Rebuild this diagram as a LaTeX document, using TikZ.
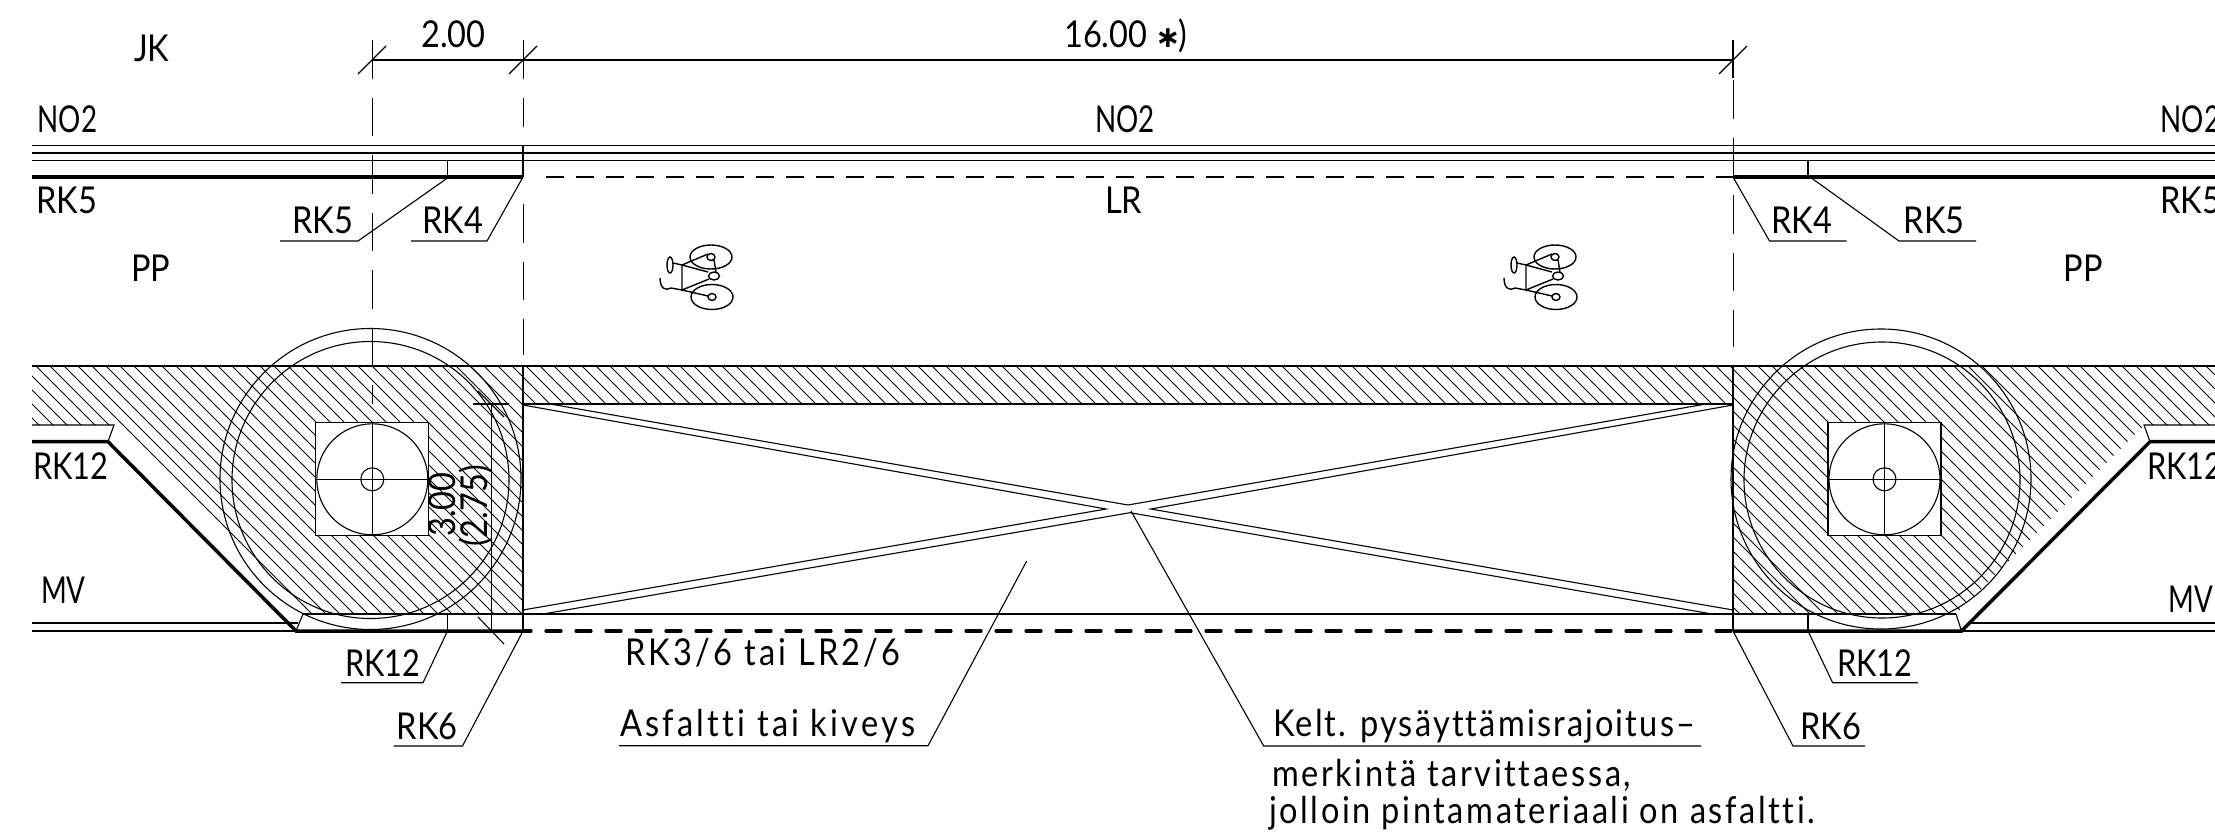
\documentclass[tikz,border=0pt]{standalone}
\usepackage{fontspec}
\setmainfont{Lato}[FakeStretch=0.88]
\newfontfamily\starfont{DejaVu Sans}
\newfontfamily\narrowfont{Lato}[FakeStretch=0.75]
\newfontfamily\mediumfont{Lato}[FakeStretch=0.83]
\newfontfamily\spacedfont{Lato}[FakeStretch=0.88,LetterSpace=7,Ligatures=NoCommon]
\newfontfamily\widefont{Lato}[FakeStretch=0.88,LetterSpace=8.8,Ligatures=NoCommon]
\newfontfamily\closefont{Lato}[FakeStretch=0.88,LetterSpace=5.8,Ligatures=NoCommon]
\usetikzlibrary{calc}
\tikzset{
   thinline/.style = {-, line width=1.1pt, },
   midline/.style  = {-, line width=1.5pt, },
   thickline/.style = {-, line width=3.5pt, line cap=butt, },
   hatchline/.style = {-, line width=0.8pt, },
   axisline/.style = {-, line width=1pt, dash pattern=on 38.5pt off 19pt, },
   kerbdash/.style = {-, line width=3.2pt, line cap=round, dash pattern=on 15pt off 15pt, },
   thindash/.style = {-, line width=1.1pt, dash pattern=on 18pt off 12pt, },
   rktext/.style = {anchor=base west, inner sep=0pt, font=\fontsize{37}{37}\selectfont, },
   narrowtext/.style = {rktext, font=\fontsize{37}{37}\narrowfont, },
   mediumtext/.style = {rktext, font=\fontsize{37}{37}\mediumfont, },
   spacedtext/.style = {rktext, font=\fontsize{37}{37}\spacedfont, },
   widetext/.style = {rktext, font=\fontsize{37}{37}\widefont, },
   closetext/.style = {rktext, font=\fontsize{37}{37}\closefont, },
   wellbox/.style = {rectangle, draw, fill=white, line width=1.1pt, minimum size=113pt, inner sep=0pt, outer sep=0pt, },
   ring/.style = {circle, draw, line width=1.1pt, inner sep=0pt, outer sep=0pt, },
   bike/.pic = {
      \draw[thinline,line width=1.4pt] (29,-19) ellipse [x radius=21, y radius=12];
      \draw[thinline,line width=1.4pt] (30,21) ellipse [x radius=21, y radius=12.5];
      \draw[thinline,line width=1.4pt] (29,-19) ellipse [x radius=4, y radius=3.5];
      \draw[thinline,line width=1.4pt] (30,21) ellipse [x radius=4, y radius=3.5];
      \draw[thinline,line width=1.4pt] (32,0) ellipse [x radius=5.5, y radius=4];
      \draw[thinline,line width=1.4pt] (-12,-11) ellipse [x radius=3, y radius=8];
      \draw[thinline,line width=1.4pt] (-9,-13) -- (0,-11) -- (26,-4);
      \draw[thinline,line width=1.4pt] (0,-11) -- (0,14) -- (27,3);
      \draw[thinline,line width=1.4pt] (0,-11) -- (26,-22);
      \draw[thinline,line width=1.4pt] (32,-16) -- (34,-4);
      \draw[thinline,line width=1.4pt] (0,14) -- (26,20);
      \draw[thinline,line width=1.4pt] (0,14) -- (-11,12) .. controls (-16,15) and (-22,13) .. (-22,2);
   },
}

\begin{document}
\begin{tikzpicture}[x=1pt,y=-1pt]
      \useasboundingbox (0,0) rectangle (2215,835);

      % hatching
      \begin{scope}
         \clip (32,366) -- (2215,366) -- (2215,425) -- (2144,425) -- (1956,614) -- (1733,614)
            -- (1733,404) -- (523,404) -- (523,614) -- (303,614) -- (114,425) -- (32,425) -- cycle;
         \foreach \k in {-28,...,146} {
            \draw[hatchline] ({162+14*\k},366) -- ({162+14*\k+300},666);
         }
      \end{scope}

      % road edges
      \draw[thinline] (32,145.5) -- (2215,145.5);
      \draw[thinline] (32,153) -- (2215,153);
      \draw[thinline] (32,160.5) -- (2215,160.5);
      \draw[thickline] (32,177) -- (523,177);
      \draw[thickline] (1733,177) -- (2215,177);
      \draw[thindash] (546,177) -- (1733,177);
      \draw[thinline] (523,145) -- (523,177);
      \draw[thinline] (447.5,160.5) -- (447.5,177);
      \draw[thinline] (1808,160.5) -- (1808,177);

      \draw[thinline] (32,366) -- (2215,366);
      \draw[midline] (523,404) -- (1733,404);
      \draw[midline] (303,614) -- (1956,614);
      \draw[thinline] (523,366) -- (523,631);
      \draw[thinline] (1733,366) -- (1733,631);

      % kerbs
      \draw[thickline] (32,441.7) -- (108,441.7) -- (296,631) -- (523,631);
      \draw[thickline] (2215,441.7) -- (2150,441.7) -- (1961.5,631) -- (1733,631);
      \draw[kerbdash] (546,631) -- (1733,631);
      \draw[kerbdash] (523,631) -- (531,631);
      \draw[thinline] (32,425) -- (114,425) -- (108,441.7);
      \draw[thinline] (2215,425) -- (2144,425) -- (2150,441.7);
      \draw[thinline] (303,614) -- (296,631);
      \draw[thinline] (1956,614) -- (1961.5,631);
      \draw[midline] (32,623) -- (298,623);
      \draw[thinline] (32,631) -- (296,631);
      \draw[midline] (1970,623) -- (2215,623);
      \draw[thinline] (1961.5,631) -- (2215,631);
      \draw[thinline] (447.5,614) -- (447.5,631);
      \draw[thinline] (1808,614) -- (1808,631);

      % crossing
      \draw[thinline] (550,404) -- (1128,505) -- (1706,404);
      \draw[thinline] (523,405) -- (1106,509) -- (523,610);
      \draw[thinline] (1733,405) -- (1150.7,509) -- (1733,610);
      \draw[thinline] (543,614) -- (1130,512.7) -- (1712,614);

      % wells
      \node[ring,minimum size=301pt] (outerL) at (370.5,479) {};
      \node[ring,minimum size=277pt] (innerL) at (370.5,480) {};
      \node[ring,minimum size=300pt] (outerR) at (1881,479) {};
      \node[ring,minimum size=276pt] (innerR) at (1882,480) {};
      \node[wellbox] (wellL) at (372.3,479.3) {};
      \node[wellbox] (wellR) at (1884.5,479.3) {};
      \node[ring,minimum size=111pt] (coverL) at (wellL) {};
      \node[ring,minimum size=111pt] (coverR) at (wellR) {};
      \node[ring,minimum size=23pt] (hubL) at (wellL) {};
      \node[ring,minimum size=23pt] (hubR) at (wellR) {};
      \draw[thinline] (wellL.north) -- (wellL.south);
      \draw[thinline] (wellL.west) -- (wellL.east);
      \draw[thinline] (wellR.north) -- (wellR.south);
      \draw[thinline] (wellR.west) -- (wellR.east);

      % axis lines
      \draw[axisline] (372,40) -- (372,404);
      \draw[axisline] (523,40) -- (523,127);
      \draw[axisline] (523,204) -- (523,355);
      \draw[thinline] (1733,40) -- (1733,78);
      \draw[axisline] (1733,80) -- (1733,347);

      % dimensions
      \draw[thinline] (372,60) -- (1733,60);
      \draw[thinline] (358,74) -- (386,46);
      \draw[thinline] (509,74) -- (537,46);
      \draw[thinline] (1719,74) -- (1747,46);
      \draw[thinline] (491.4,404) -- (491.4,631);
      \draw[thinline] (473,404) -- (509,404);
      \draw[thinline] (478,391) -- (504,417);
      \draw[thinline] (478,617) -- (504,644);

      % leaders
      \coordinate (rkfiveLa) at (447.5,178); \coordinate (rkfiveLb) at (358,241); \coordinate (rkfiveLc) at (280,241);
      \coordinate (rkfourLa) at (523,177); \coordinate (rkfourLb) at (487,241); \coordinate (rkfourLc) at (411,241);
      \coordinate (rkfourRa) at (1733,177); \coordinate (rkfourRb) at (1769.5,241); \coordinate (rkfourRc) at (1846.5,241);
      \coordinate (rkfiveRa) at (1810,177); \coordinate (rkfiveRb) at (1899,241); \coordinate (rkfiveRc) at (1976,241);
      \coordinate (rktwelveLa) at (447.5,631); \coordinate (rktwelveLb) at (423,682.7); \coordinate (rktwelveLc) at (341,682.7);
      \coordinate (rktwelveRa) at (1808,631); \coordinate (rktwelveRb) at (1832.6,682.7); \coordinate (rktwelveRc) at (1918,682.7);
      \coordinate (rksixLa) at (523,631); \coordinate (rksixLb) at (462.5,746); \coordinate (rksixLc) at (393.6,746);
      \coordinate (rksixRa) at (1733,631); \coordinate (rksixRb) at (1793,746); \coordinate (rksixRc) at (1865,746);
      \coordinate (asfa) at (1026.7,561); \coordinate (asfb) at (928,745.7); \coordinate (asfc) at (619,745.7);
      \coordinate (kelta) at (1131,511); \coordinate (keltb) at (1263.7,746); \coordinate (keltc) at (1701,746);
      \draw[thinline] (rkfiveLa) -- (rkfiveLb) -- (rkfiveLc);
      \draw[thinline] (rkfourLa) -- (rkfourLb) -- (rkfourLc);
      \draw[thinline] (rkfourRa) -- (rkfourRb) -- (rkfourRc);
      \draw[thinline] (rkfiveRa) -- (rkfiveRb) -- (rkfiveRc);
      \draw[thinline] (rktwelveLa) -- (rktwelveLb) -- (rktwelveLc);
      \draw[thinline] (rktwelveRa) -- (rktwelveRb) -- (rktwelveRc);
      \draw[thinline] (rksixLa) -- (rksixLb) -- (rksixLc);
      \draw[thinline] (rksixRa) -- (rksixRb) -- (rksixRc);
      \draw[thinline] (asfa) -- (asfb) -- (asfc);
      \draw[thinline] (kelta) -- (keltb) -- (keltc);

      % bicycles
      \pic at (682,276) {bike};
      \pic at (1526,276) {bike};

      % texts
      \node[rktext] (jk) at (134,61) {JK};
      \node[rktext] (dimtwo) at (421,47) {2.00};
      \node[rktext] (dimsixteen) at (1064,47) {16.00\hspace{8pt}{\starfont\bfseries\fontsize{30}{30}\selectfont\char"2217}\hspace{-2pt})};
      \node[narrowtext] (noL) at (37.5,132) {NO2};
      \node[narrowtext] (noM) at (1095,132) {NO2};
      \node[narrowtext] (noR) at (2160.5,132) {NO2};
      \node[rktext] (rkfiveedgeL) at (36,213) {RK5};
      \node[rktext] (rkfiveedgeR) at (2160,213) {RK5};
      \node[rktext] (lr) at (1105,213) {LR};
      \node[rktext] (rkfiveL) at (292,233) {RK5};
      \node[rktext] (rkfourL) at (422,233) {RK4};
      \node[rktext] (rkfourR) at (1771,233) {RK4};
      \node[rktext] (rkfiveR) at (1903.5,233) {RK5};
      \node[rktext] (ppL) at (131,281.7) {PP};
      \node[rktext] (ppR) at (2063.5,281.7) {PP};
      \node[mediumtext] (rkedgeL) at (33,479.3) {RK12};
      \node[mediumtext] (rkedgeR) at (2147,479.3) {RK12};
      \node[narrowtext] (mvL) at (41,603) {MV};
      \node[narrowtext] (mvR) at (2168,612.7) {MV};
      \node[mediumtext] (rktwelveL) at (345,676) {RK12};
      \node[mediumtext] (rktwelveR) at (1837,676) {RK12};
      \node[rktext] (rksixL) at (396.5,739.3) {RK6};
      \node[rktext] (rksixR) at (1800,739.3) {RK6};
      \node[widetext] (rkmid) at (625,665.7) {RK3/6 tai LR2/6};
      \node[widetext] (asf) at (620,736) {Asfaltti tai kiveys};
      \node[closetext] (kelt) at (1273,736.7) {Kelt. pysäyttämisrajoitus–};
      \node[spacedtext] (merk) at (1272,786.7) {merkintä tarvittaessa,};
      \node[spacedtext] (joll) at (1269,823) {jolloin pintamateriaali on asfaltti.};
      \node[rktext,rotate=90] (dimthree) at (455,537) {3.00};
      \node[rktext,rotate=90] (dimtwoseven) at (487,547) {(2.75)};
\end{tikzpicture}
\end{document}
